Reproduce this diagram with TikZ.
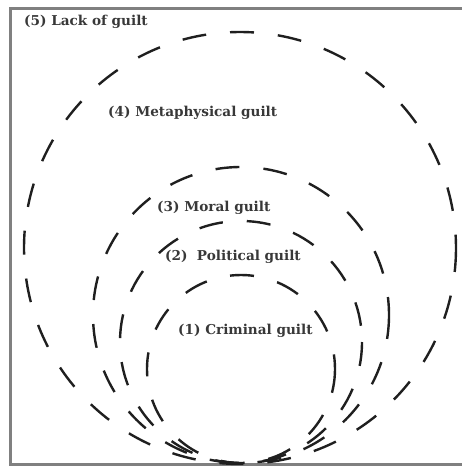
\documentclass[tikz,border=0pt]{standalone}
\usepackage{fontspec}
\setmainfont{DejaVu Serif}
\begin{document}
\begin{tikzpicture}[x=1pt,y=-1pt,
  ring/.style={draw=black!88,line width=2.4pt,dash pattern=on 24pt off 24pt},
  lbl/.style={font=\fontsize{13.6}{15}\selectfont\bfseries,text=black!78,inner sep=0pt,anchor=west},
  frame/.style={draw=black!50,line width=3pt}]
\useasboundingbox (0,0) rectangle (462,467);
\begin{scope}
\clip (0,0) rectangle (462,467);
\draw[frame] (10,8) rectangle (470,464);
\end{scope}
\coordinate (c4) at (240,248);
\coordinate (c3) at (241,315);
\coordinate (c2) at (241,342);
\coordinate (c1) at (241,369);
\draw[ring] (c4) circle[radius=216];
\draw[ring] (c3) circle[radius=148];
\draw[ring] (c2) circle[radius=121];
\draw[ring] (c1) circle[radius=94];
\node[lbl] (l5) at (24,22) {(5) Lack of guilt};
\node[lbl] (l4) at (108,113) {(4) Metaphysical guilt};
\node[lbl] (l3) at (157,208) {(3) Moral guilt};
\node[lbl] (l2) at (165,257) {(2)\ \ Political guilt};
\node[lbl] (l1) at (178,331) {(1) Criminal guilt};
\end{tikzpicture}
\end{document}
